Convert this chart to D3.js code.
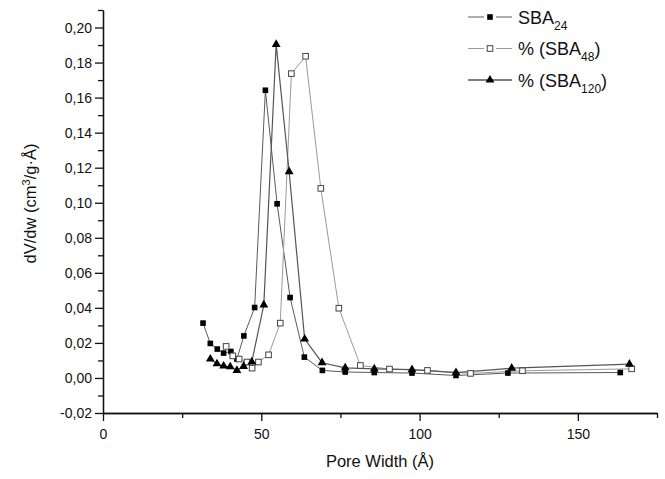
<!DOCTYPE html>
<html>
<head>
<meta charset="utf-8">
<script src="https://cdn.jsdelivr.net/npm/d3@7"></script>
<style>
	body { margin: 0; background: #fff; }
	svg text { font-family: 'Liberation Sans', Arial, sans-serif; fill: #111; }
</style>
</head>
<body>
<div class="chart"></div>
<script>
'use strict';

// Pore width (Å) and dV/dw values.
var sba24X = [31.6, 33.9, 36.1, 38.1, 40.4, 42.3, 44.5, 47.9, 51.3, 55.0, 59.1, 63.6, 69.3, 76.5, 85.7, 97.6, 111.5, 127.9, 163.4];
var sba24Y = [0.0313, 0.0197, 0.0165, 0.0142, 0.0151, 0.0108, 0.0240, 0.0402, 0.1642, 0.0994, 0.0459, 0.0119, 0.0043, 0.0034, 0.0031, 0.0028, 0.0014, 0.0028, 0.0031];

var sba48X = [38.9, 41.0, 43.0, 45.5, 47.1, 49.1, 52.3, 56.0, 59.5, 64.0, 68.8, 74.5, 81.3, 90.5, 102.5, 116.1, 132.5, 167.0];
var sba48Y = [0.0180, 0.0126, 0.0108, 0.0091, 0.0056, 0.0091, 0.0132, 0.0313, 0.1737, 0.1836, 0.1082, 0.0398, 0.0071, 0.0051, 0.0043, 0.0026, 0.0041, 0.0052];

var sba120X = [33.9, 36.0, 38.1, 40.2, 42.3, 44.4, 47.0, 50.8, 54.7, 58.8, 63.7, 69.2, 76.5, 85.7, 97.6, 111.5, 129.1, 166.3];
var sba120Y = [0.0108, 0.0081, 0.0068, 0.0064, 0.0043, 0.0066, 0.0092, 0.0417, 0.1904, 0.1177, 0.0222, 0.0087, 0.0058, 0.0052, 0.0047, 0.0031, 0.0056, 0.0079];

var xTicks = [0, 50, 100, 150];
var yTicks = [-0.02, 0, 0.02, 0.04, 0.06, 0.08, 0.10, 0.12, 0.14, 0.16, 0.18, 0.20];

var series = [
	{name: 'SBA', sub: '24', post: '', xs: sba24X, ys: sba24Y, marker: 'square', line: '#5a5a5a', width: 1, gap: true},
	{name: '% (SBA', sub: '48', post: ')', xs: sba48X, ys: sba48Y, marker: 'open', line: '#9a9a9a', width: 1, gap: true},
	{name: '% (SBA', sub: '120', post: ')', xs: sba120X, ys: sba120Y, marker: 'triangle', line: '#555', width: 1.2, gap: false}
];


var svgWidth = 665;
var svgHeight = 479;
var margin = {top: 10, right: 8, bottom: 66, left: 103};
var width = svgWidth - margin.left - margin.right;
var height = svgHeight - margin.top - margin.bottom;

var svg = d3.select('.chart').append('svg')
	.attr('width', svgWidth)
	.attr('height', svgHeight);

var g = svg.append('g')
	.attr('transform', `translate(${margin.left}, ${margin.top})`);

var x = d3.scaleLinear().domain([0, 175]).range([0, width]);
var y = d3.scaleLinear().domain([-0.02, 0.21]).range([height, 0]);

var fmt = function(d) {
	return d3.format('.2f')(d).replace('.', ',').replace('−', '-');
};


// Axes: major and minor ticks, all pointing out.
var xAxis = g.append('g')
	.attr('transform', `translate(0, ${height})`)
	.call(d3.axisBottom(x).tickValues(xTicks).tickSize(8).tickSizeOuter(0).tickPadding(6).tickFormat(d3.format('d')));
g.append('g')
	.attr('transform', `translate(0, ${height})`)
	.call(d3.axisBottom(x).tickValues([25, 75, 125, 175]).tickSize(5).tickSizeOuter(0).tickFormat(''));

g.append('g')
	.call(d3.axisLeft(y).tickValues(yTicks).tickSize(8).tickSizeOuter(0).tickPadding(3).tickFormat(fmt));
g.append('g')
	.call(d3.axisLeft(y).tickValues(d3.range(-0.01, 0.215, 0.02)).tickSize(5).tickSizeOuter(0).tickFormat(''));

g.selectAll('.domain, .tick line').attr('stroke', '#111').attr('stroke-width', 1.3);
g.selectAll('.tick text').attr('font-size', 14).attr('fill', '#111');
xAxis.selectAll('.tick text').attr('dy', '0.85em');


// Axis titles
svg.append('text')
	.attr('x', margin.left + width / 2)
	.attr('y', 467)
	.attr('text-anchor', 'middle')
	.attr('font-size', 16.5)
	.text('Pore Width (Å)');

var yTitle = svg.append('text')
	.attr('transform', `translate(36, ${margin.top + height / 2 - 8}) rotate(-90)`)
	.attr('text-anchor', 'middle')
	.attr('font-size', 16.5);
yTitle.append('tspan').text('dV/dw (cm');
yTitle.append('tspan').attr('font-size', 11).attr('dy', -6).text('3');
yTitle.append('tspan').attr('dy', 6).text('/g·Å)');


// Marker drawing helper
function drawMarker(sel, kind) {
	if (kind === 'triangle') {
		sel.append('path')
			.attr('d', d3.symbol().type(d3.symbolTriangle).size(34))
			.attr('fill', '#000');
	} else {
		sel.append('rect')
			.attr('x', -2.8).attr('y', -2.8)
			.attr('width', 5.6).attr('height', 5.6)
			.attr('fill', kind === 'open' ? '#fff' : '#000')
			.attr('stroke', kind === 'open' ? '#444' : 'none')
			.attr('stroke-width', 1);
	}
}


// Lines and points
var line = d3.line()
	.x(function(d) { return x(d[0]); })
	.y(function(d) { return y(d[1]); });

series.forEach(function(s) {
	g.append('path')
		.datum(d3.zip(s.xs, s.ys))
		.attr('d', line)
		.attr('fill', 'none')
		.attr('stroke', s.line)
		.attr('stroke-width', s.width);
});

series.forEach(function(s) {
	g.selectAll(null)
		.data(d3.zip(s.xs, s.ys))
		.enter().append('g')
		.attr('transform', function(d) { return `translate(${x(d[0])}, ${y(d[1])})`; })
		.each(function() { drawMarker(d3.select(this), s.marker); });
});


// Legend (rows 1 and 2 leave a small gap round the symbol)
var legend = svg.append('g');
series.forEach(function(s, i) {
	var row = legend.append('g')
		.attr('transform', `translate(468, ${17 + i * 31.5})`);
	var segs = s.gap ? [[0, 16], [28, 44]] : [[0, 44]];
	segs.forEach(function(seg) {
		row.append('line')
			.attr('x1', seg[0]).attr('x2', seg[1])
			.attr('stroke', s.line)
			.attr('stroke-width', s.gap ? 1 : 1.6);
	});
	drawMarker(row.append('g').attr('transform', 'translate(22, 0)'), s.marker);
	var t = row.append('text')
		.attr('x', 50)
		.attr('y', 6.5)
		.attr('font-size', 18);
	t.append('tspan').text(s.name);
	t.append('tspan').attr('font-size', 12).attr('dy', 6).text(s.sub);
	if (s.post) t.append('tspan').attr('dy', -6).text(s.post);
});
</script>
</body>
</html>
